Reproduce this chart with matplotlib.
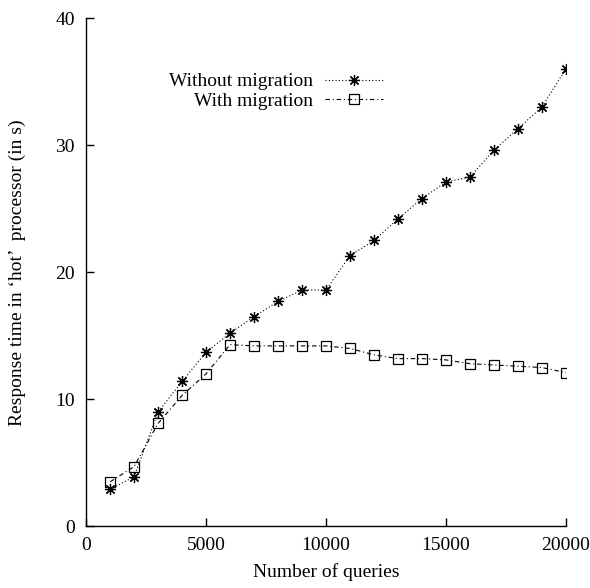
import matplotlib
matplotlib.use('Agg')
import matplotlib.pyplot as plt

# queries sent vs. response time of the hot processor
queries = [1000, 2000, 3000, 4000, 5000, 6000, 7000, 8000, 9000, 10000,
           11000, 12000, 13000, 14000, 15000, 16000, 17000, 18000, 19000, 20000]
without_migration = [2.9, 3.9, 9.0, 11.4, 13.7, 15.2, 16.5, 17.7, 18.6, 18.6,
                     21.3, 22.5, 24.2, 25.8, 27.1, 27.5, 29.6, 31.3, 33.0, 36.0]
with_migration = [3.5, 4.7, 8.1, 10.3, 12.0, 14.3, 14.2, 14.2, 14.2, 14.2,
                  14.0, 13.5, 13.2, 13.2, 13.1, 12.8, 12.7, 12.6, 12.5, 12.1]

xticks = [0, 5000, 10000, 15000, 20000]
yticks = [0, 10, 20, 30, 40]

plt.rcParams['font.family'] = ['Liberation Serif', 'DejaVu Serif']
plt.rcParams['font.size'] = 14

fig = plt.figure(figsize=(5.9, 5.88), dpi=100)
ax = fig.add_axes([0.146, 0.105, 0.813, 0.864])

ax.plot(queries, without_migration, color='black', linewidth=0.8,
        linestyle=(0, (1, 2)), marker=(8, 2, 0), markersize=8,
        markeredgewidth=0.9, label='Without migration')
ax.plot(queries, with_migration, color='black', linewidth=0.8,
        linestyle=(0, (4, 2.5, 1, 2.5)), marker='s', markersize=7,
        markerfacecolor='none', markeredgewidth=0.9, label='With migration')

ax.set_xlim(0, 20000)
ax.set_ylim(0, 40)
ax.set_xticks(xticks)
ax.set_yticks(yticks)
ax.tick_params(direction='in', length=6, width=1, pad=8)
ax.spines['top'].set_visible(False)
ax.spines['right'].set_visible(False)
for s in ['left', 'bottom']:
    ax.spines[s].set_linewidth(1)

ax.set_xlabel('Number of queries', labelpad=6)
ax.set_ylabel('Response time in \u2018hot\u2019  processor (in s)', labelpad=21)

ax.legend(loc='center', bbox_to_anchor=(0.396, 0.856), frameon=False,
          markerfirst=False, handlelength=3, handletextpad=0.6,
          labelspacing=0.1)

fig.savefig('out.png', dpi=100)
